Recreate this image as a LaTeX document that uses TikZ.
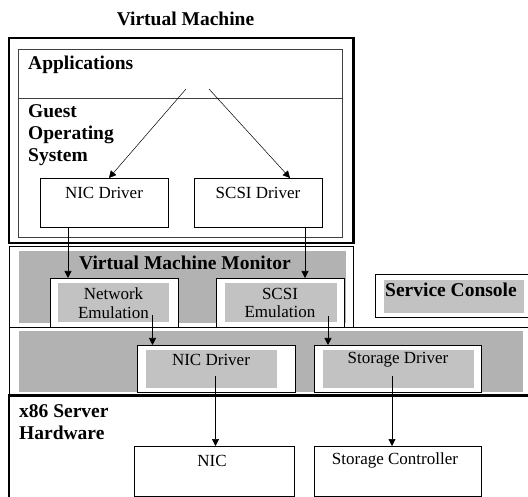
\documentclass[tikz,border=0pt]{standalone}
\usepackage{fontspec}
\setmainfont{Liberation Serif}
\usetikzlibrary{arrows.meta}
\definecolor{dgray}{RGB}{178,178,178}
\definecolor{lgray}{RGB}{194,194,194}
\begin{document}
\begin{tikzpicture}[x=1pt,y=-1pt,
  box/.style={draw=black, line width=0.9pt, inner sep=0pt, outer sep=0pt, anchor=north west},
  wbox/.style={box, fill=white},
  thickbox/.style={box, line width=2.6pt},
  gfill/.style={fill=dgray, draw=none, inner sep=0pt, outer sep=0pt, anchor=north west},
  lfill/.style={fill=lgray, draw=none, inner sep=0pt, outer sep=0pt, anchor=north west},
  reg/.style={font=\fontsize{17}{18.5}\selectfont, inner sep=0pt, align=center},
  bld/.style={font=\fontsize{19.5}{22}\selectfont\bfseries, inner sep=0pt, align=left},
  arr/.style={-{Triangle[length=7pt,width=7pt]}, line width=0.7pt},
  ln/.style={line width=0.5pt, draw=black!85}
]
\useasboundingbox (0,0) rectangle (528,497);

% title
\node[bld] (title) at (185.5,18.5) {Virtual Machine};

% Virtual machine
\node[thickbox, minimum width=344.5pt, minimum height=205pt] (vm) at (9,38) {};
\node[box, line width=0.6pt, draw=black!75, minimum width=323.5pt, minimum height=188pt] (vmin) at (18.5,49) {};
\coordinate (divy) at (0,98);
\draw[line width=0.6pt, draw=black!75] (vmin.west |- divy) -- (vmin.east |- divy);
\node[bld, anchor=west] (apps) at (28,65) {Applications};
\node[bld, anchor=north west] (gos) at (28,104) {Guest\\Operating\\System};
\node[box, minimum width=128pt, minimum height=49pt] (gnic) at (40,178) {};
\node[reg] (gnict) at (104,193) {NIC Driver};
\node[box, minimum width=128pt, minimum height=49pt] (gscsi) at (194,178) {};
\node[reg] (gscsit) at (258,193) {SCSI Driver};

% VMM layer
\node[box, minimum width=344pt, minimum height=81pt] (vmm) at (9,246) {};
\node[gfill, minimum width=327.5pt, minimum height=72.5pt] (vmmg) at (18.5,251) {};
\node[bld] (vmmt) at (185,263) {Virtual Machine Monitor};

% Layer 2
\node[box, minimum width=530pt, minimum height=67.5pt] (hv) at (9,327.5) {};
\node[gfill, minimum width=504.5pt, minimum height=60.5pt] (hvg) at (18.5,331.5) {};

% emulation boxes
\node[wbox, minimum width=128.5pt, minimum height=49pt] (netemu) at (50,278) {};
\node[lfill, minimum width=111pt, minimum height=39.5pt] (netemug) at (58,283) {};
\node[reg] (netemut) at (113.5,303) {Network\\Emulation};
\node[wbox, minimum width=128pt, minimum height=49pt] (scsiemu) at (216,278) {};
\node[lfill, minimum width=112pt, minimum height=39.5pt] (scsiemug) at (225,283) {};
\node[reg] (scsiemut) at (280,303) {SCSI\\Emulation};

% service console
\node[wbox, minimum width=153pt, minimum height=43pt] (sc) at (375.5,274) {};
\node[lfill, minimum width=140pt, minimum height=33pt] (scg) at (384,280) {};
\node[bld, anchor=west] (sct) at (385,290) {Service Console};

% drivers in layer 2
\node[wbox, minimum width=158pt, minimum height=47pt] (hnic) at (137,345) {};
\node[lfill, minimum width=131pt, minimum height=38pt] (hnicg) at (146,350) {};
\node[reg] (hnict) at (211,359.5) {NIC Driver};
\node[wbox, minimum width=167pt, minimum height=47pt] (hsto) at (314,345) {};
\node[lfill, minimum width=151.5pt, minimum height=38pt] (hstog) at (322.5,350) {};
\node[reg] (hstot) at (398,359.5) {Storage Driver};

% hardware
\node[thickbox, minimum width=540pt, minimum height=120pt] (hw) at (9,395.5) {};
\node[bld, anchor=north west] (hwt) at (19,404) {x86 Server\\Hardware};
\node[box, minimum width=160pt, minimum height=50pt] (nic) at (134.7,446) {};
\node[reg] (nict) at (212,460.5) {NIC};
\node[box, minimum width=167pt, minimum height=50pt] (stc) at (314,446) {};
\node[reg] (stct) at (395,460.5) {Storage Controller};

% connectors
\coordinate (s1) at (186,89);
\coordinate (s2) at (209,89);
\coordinate (e1) at (109,0);
\coordinate (e2) at (290,0);
\draw[arr, line width=0.5pt] (s1) -- (gnic.north -| e1);
\draw[arr, line width=0.5pt] (s2) -- (gscsi.north -| e2);

\coordinate (xa) at (68,0);
\coordinate (xb) at (305,0);
\draw[arr] (gnic.south -| xa) -- (netemu.north -| xa);
\draw[arr] (gscsi.south -| xb) -- (scsiemu.north -| xb);

\coordinate (xc) at (152.5,315);
\coordinate (xd) at (328,316);
\draw[arr] (xc) -- (hnic.north -| xc);
\draw[arr] (xd) -- (hsto.north -| xd);

\coordinate (xe) at (215.5,376);
\coordinate (xf) at (392,376);
\draw[arr] (xe) -- (nic.north -| xe);
\draw[arr] (xf) -- (stc.north -| xf);
\end{tikzpicture}
\end{document}
